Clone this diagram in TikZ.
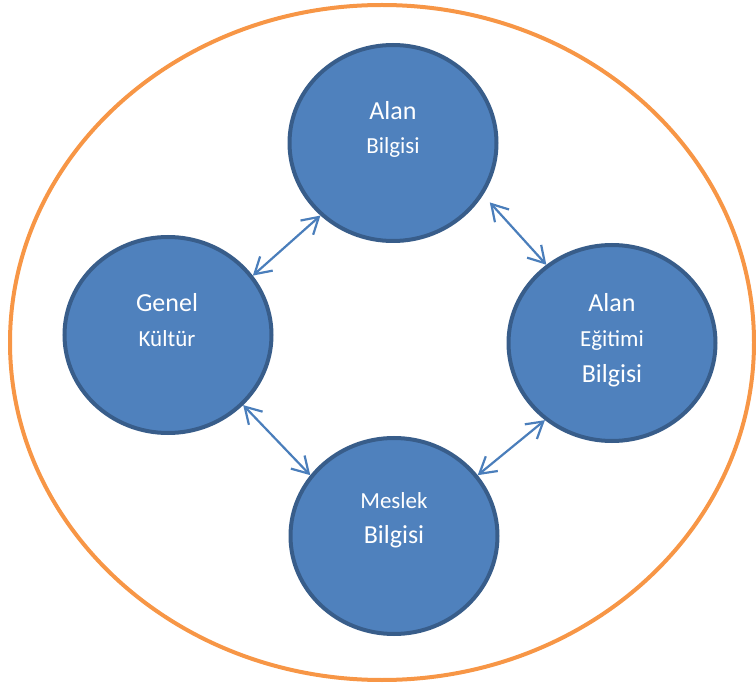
\documentclass[tikz,border=0pt]{standalone}
\usepackage{fontspec}
\setmainfont{Carlito}
\usetikzlibrary{shapes.geometric,arrows.meta}
\definecolor{orng}{HTML}{F79646}
\definecolor{cfill}{HTML}{4F81BD}
\definecolor{cline}{HTML}{385D8A}
\definecolor{arrc}{HTML}{4A7EBB}
\begin{document}
\begin{tikzpicture}[x=1pt,y=-1pt,
  bubble/.style={ellipse, draw=cline, line width=4pt, fill=cfill,
    minimum width=207pt, minimum height=196pt, inner sep=0pt},
  lbl/.style={text=white, anchor=base, inner sep=0pt},
  big/.style={font=\fontsize{26}{30}\selectfont},
  small/.style={font=\fontsize{23}{27}\selectfont},
  arr/.style={draw=arrc, line width=2.2pt,
    {Straight Barb[length=16pt,width=19pt]}-{Straight Barb[length=16pt,width=19pt]}}]
\useasboundingbox (0,0) rectangle (756,687);
\draw[orng, line width=4pt] (382,342.5) ellipse [x radius=372, y radius=337.5];
\node[bubble] (top) at (393,143) {};
\node[bubble] (left) at (168,335) {};
\node[bubble] (right) at (612,343) {};
\node[bubble] (bottom) at (394,536) {};
\node[lbl,big] (t1) at (393,120) {Alan};
\node[lbl,small] (t2) at (393,154) {Bilgisi};
\node[lbl,big] (r1) at (612,312) {Alan};
\node[lbl,small] (r2) at (612,347) {Eğitimi};
\node[lbl,big] (r3) at (612,383) {Bilgisi};
\node[lbl,big] (l1) at (167,312) {Genel};
\node[lbl,small] (l2) at (167,347) {Kültür};
\node[lbl,small] (b1) at (394,508) {Meslek};
\node[lbl,big] (b2) at (394,543) {Bilgisi};
\draw[arr] (left.35) -- (top.225);
\draw[arr, shorten <=10pt] (top.330) -- (right.130);
\draw[arr] (left.317) -- (bottom.144);
\draw[arr] (bottom.36) -- (right.229);
\end{tikzpicture}
\end{document}
